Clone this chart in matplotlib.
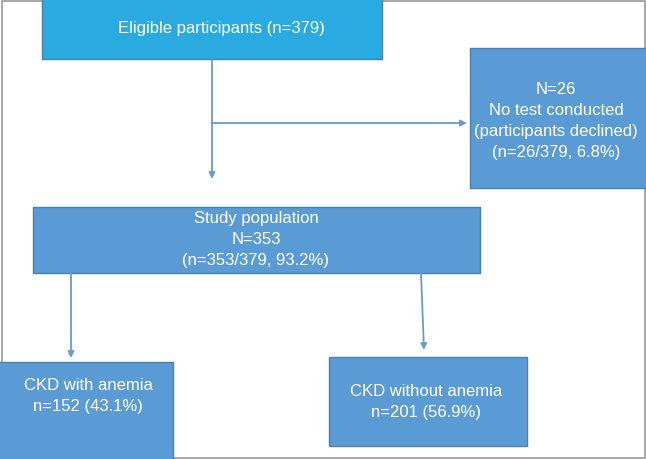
import matplotlib.pyplot as plt
from matplotlib.patches import Rectangle

# box texts
labels = [
    'Eligible participants (n=379)',
    'N=26\nNo test conducted\n(participants declined)\n(n=26/379, 6.8%)',
    'Study population\nN=353\n(n=353/379, 93.2%)',
    'CKD with anemia\nn=152 (43.1%)',
    'CKD without anemia\nn=201 (56.9%)',
]
# layout in pixels: x0, y0, x1, y1, text center x, text center y
boxes = [
    (42, -3, 382, 59, 221, 29),
    (470, 48, 649, 188, 556, 121),
    (33, 207, 480, 273, 256, 240),
    (-3, 362, 173, 462, 88, 396),
    (329, 357, 527, 446, 426, 402),
]
fills = ['#29abe2', '#5b9bd5', '#5b9bd5', '#5b9bd5', '#5b9bd5']
edge = '#4a7fb0'
arrow_col = '#6a9bd0'

fig = plt.figure(figsize=(6.46, 4.59), dpi=100)
ax = fig.add_axes([0, 0, 1, 1])
ax.set_xlim(0, 646)
ax.set_ylim(459, 0)
ax.axis('off')

# outer frame
ax.add_patch(Rectangle((2, 1), 643, 457, fill=False, ec='#9a9a9a', lw=1.2, zorder=1))

for (x0, y0, x1, y1, tx, ty), lab, fc in zip(boxes, labels, fills):
    ax.add_patch(Rectangle((x0, y0), x1 - x0, y1 - y0, fc=fc, ec=edge, lw=1, zorder=2))
    ax.text(tx, ty, lab, color='white', ha='center', va='center', fontsize=12,
            family='Liberation Sans', linespacing=1.5, zorder=3)

def arrow(x0, y0, x1, y1):
    ax.annotate('', xy=(x1, y1), xytext=(x0, y0),
                arrowprops=dict(arrowstyle='-|>', color=arrow_col, lw=1.3,
                                mutation_scale=9, shrinkA=0, shrinkB=0), zorder=2)

arrow(212, 59, 212, 179)
arrow(212, 123, 467, 123)
arrow(71, 273, 71, 358)
arrow(421, 273, 424, 350)

fig.savefig('out.png', dpi=100)
